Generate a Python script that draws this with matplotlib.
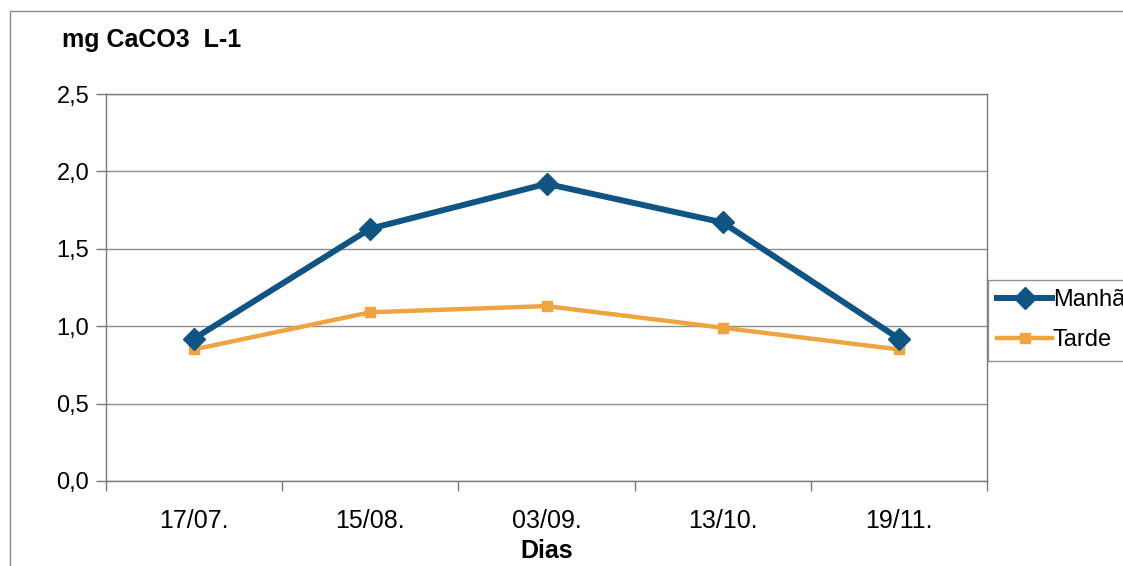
import matplotlib
matplotlib.use("Agg")
import matplotlib.pyplot as plt
from matplotlib.patches import Rectangle

plt.rcParams['font.family'] = ['Liberation Sans', 'DejaVu Sans']

categories = ["17/07.", "15/08.", "03/09.", "13/10.", "19/11."]
manha = [0.92, 1.63, 1.92, 1.67, 0.92]
tarde = [0.85, 1.09, 1.13, 0.99, 0.85]
yticks = [0.0, 0.5, 1.0, 1.5, 2.0, 2.5]
ytick_labels = ["0,0", "0,5", "1,0", "1,5", "2,0", "2,5"]

W, H = 1123, 566
fig = plt.figure(figsize=(W / 100, H / 100), dpi=100)
fig.patch.set_facecolor("white")

# outer chart border
fig.patches.append(Rectangle((10 / W, -0.1), 1.2, 1 - 11 / H + 0.1, transform=fig.transFigure,
                             fill=False, edgecolor="#8a8a8a", linewidth=1.0))

ax = fig.add_axes([106 / W, 1 - 481 / H, (987 - 106) / W, (481 - 94) / H])
x = list(range(len(categories)))

blue = "#0F5482"
orange = "#EEA440"

ax.plot(x, manha, color=blue, linewidth=4.3, marker="D", markersize=11,
        label="Manhã", zorder=4, solid_joinstyle="round")
ax.plot(x, tarde, color=orange, linewidth=3.2, marker="s", markersize=7.5,
        label="Tarde", zorder=3)

ax.set_xlim(-0.5, len(categories) - 0.5)
ax.set_ylim(0, 2.5)
ax.set_yticks(yticks)
ax.set_yticklabels(ytick_labels)
ax.set_xticks(x)
ax.set_xticklabels(categories)
ax.set_xticks([i - 0.5 for i in range(len(categories) + 1)], minor=True)

ax.grid(axis="y", color="#8c8c8c", linewidth=1.0)
ax.set_axisbelow(True)
for s in ax.spines.values():
    s.set_color("#7a7a7a")
    s.set_linewidth(1.0)

ax.tick_params(axis="y", which="major", length=7, width=1, color="#7a7a7a",
               labelsize=17, pad=5)
ax.tick_params(axis="x", which="major", length=0, labelsize=18, pad=20)
ax.tick_params(axis="x", which="minor", length=7, width=1, color="#7a7a7a")

fig.text(62 / W, 1 - 40 / H, "mg CaCO3  L-1", fontsize=18, fontweight="bold",
         ha="left", va="center")
fig.text(547 / W, 1 - 551 / H, "Dias", fontsize=18, fontweight="bold",
         ha="center", va="center")

leg = fig.legend(loc="upper left", bbox_to_anchor=(988 / W, 1 - 280 / H),
                 frameon=True, fancybox=False, fontsize=17, handlelength=2.3,
                 handletextpad=0.05, labelspacing=0.75, borderpad=0.4,
                 borderaxespad=0)
leg.get_frame().set_edgecolor("#7a7a7a")
leg.get_frame().set_linewidth(1.0)

fig.savefig("out.png", dpi=100)
